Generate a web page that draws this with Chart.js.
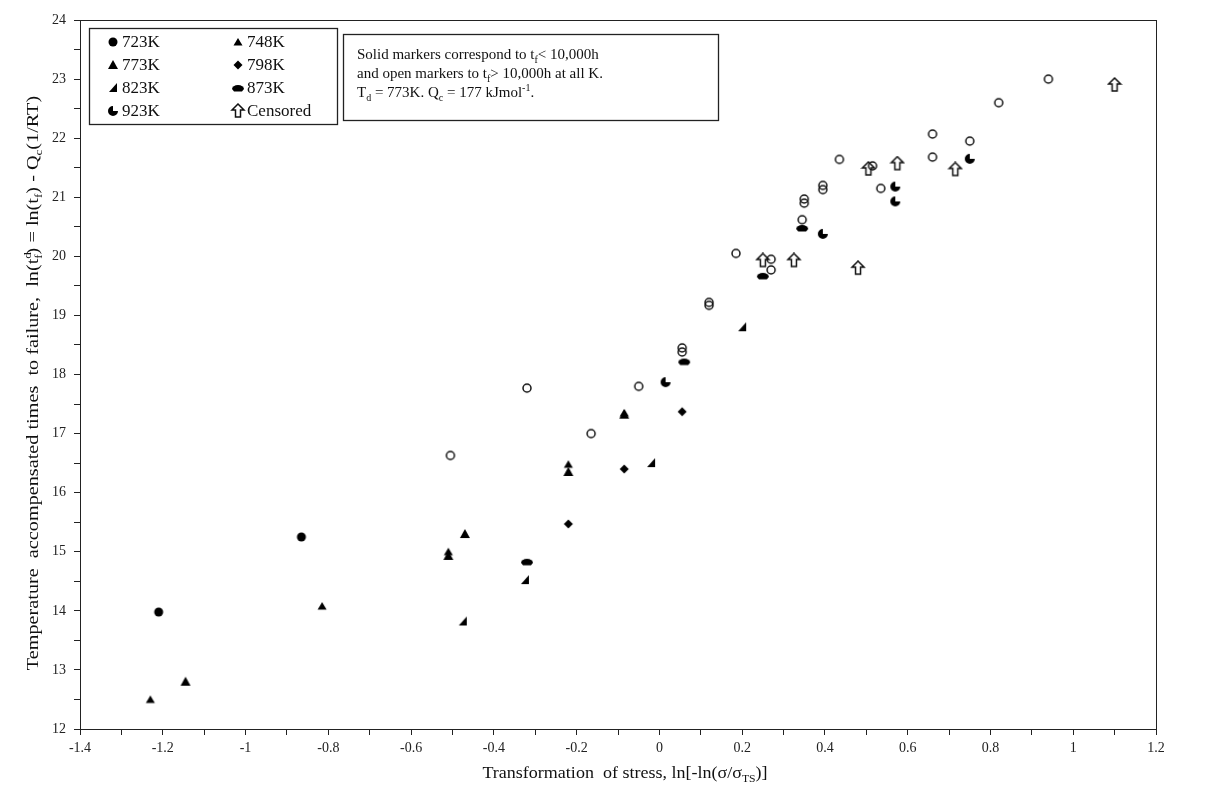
<!DOCTYPE html>
<html>
<head>
<meta charset="utf-8">
<script src="https://cdn.jsdelivr.net/npm/chart.js@4.4.1/dist/chart.umd.min.js"></script>
<style>
  body { margin: 0; background: #fff; }
  #wrap { width: 1208px; height: 787px; }
</style>
</head>
<body>
<div id="wrap"><canvas id="chart" width="1208" height="787"></canvas></div>
<script>
// data points [x, y]
const k723 = [[-1.21, 13.98], [-0.865, 15.25]];
const k748 = [[-1.23, 12.5], [-0.815, 14.08], [-0.51, 15.0], [-0.22, 16.48], [-0.085, 17.35]];
const k773 = [[-1.145, 12.8], [-0.51, 14.93], [-0.47, 15.3], [-0.22, 16.35], [-0.085, 17.32]];
const k798 = [[-0.22, 15.47], [-0.085, 16.4], [0.055, 17.37]];
const k823 = [[-0.475, 13.82], [-0.325, 14.52], [-0.02, 16.5], [0.2, 18.8]];
const k873 = [[-0.32, 14.83], [0.06, 18.22], [0.25, 19.67], [0.345, 20.48]];
const k923 = [[0.015, 17.87], [0.395, 20.38], [0.57, 21.18], [0.57, 20.93], [0.75, 21.65]];
const openPts = [[-0.505, 16.63], [-0.32, 17.77], [-0.05, 17.8], [-0.165, 17.0], [0.055, 18.45], [0.055, 18.38],
  [0.12, 19.22], [0.12, 19.17], [0.185, 20.05], [0.27, 19.95], [0.27, 19.77], [0.345, 20.62], [0.35, 20.97],
  [0.35, 20.9], [0.395, 21.2], [0.395, 21.13], [0.435, 21.64], [0.515, 21.53], [0.535, 21.15], [0.66, 22.07],
  [0.66, 21.68], [0.75, 21.95], [0.82, 22.6], [0.94, 23.0]];
const censored = [[0.25, 19.93], [0.325, 19.93], [0.48, 19.8], [0.505, 21.48], [0.575, 21.57], [0.715, 21.47], [1.1, 22.9]];

const legendLabels = ['723K', '748K', '773K', '798K', '823K', '873K', '923K', 'Censored'];

const serif = '"Liberation Serif", "DejaVu Serif", serif';

// small canvases used as point styles
function mk(draw) {
    const c = document.createElement('canvas');
    c.width = 16; c.height = 16;
    const g = c.getContext('2d');
    g.fillStyle = '#000';
    g.strokeStyle = '#111';
    g.lineWidth = 1.5;
    g.beginPath();
    draw(g, 8, 8);
    return c;
}
const mDot = mk((g, x, y) => { g.arc(x, y, 4.5, 0, Math.PI * 2); g.fill(); });
const mTri748 = mk((g, x, y) => { g.moveTo(x, y - 4); g.lineTo(x + 4.5, y + 3.5); g.lineTo(x - 4.5, y + 3.5); g.closePath(); g.fill(); });
const mTri773 = mk((g, x, y) => { g.moveTo(x, y - 5); g.lineTo(x + 5, y + 4); g.lineTo(x - 5, y + 4); g.closePath(); g.fill(); });
const mDiam = mk((g, x, y) => { g.moveTo(x, y - 4.5); g.lineTo(x + 4.5, y); g.lineTo(x, y + 4.5); g.lineTo(x - 4.5, y); g.closePath(); g.fill(); });
const mHalf = mk((g, x, y) => { g.moveTo(x + 4, y - 5); g.lineTo(x + 4, y + 4); g.lineTo(x - 4, y + 4); g.closePath(); g.fill(); });
const mDome = mk((g, x, y) => { g.ellipse(x, y + 1, 6, 4, 0, Math.PI, Math.PI * 2); g.lineTo(x + 4, y + 3.5); g.lineTo(x - 4, y + 3.5); g.closePath(); g.fill(); });
const mPac = mk((g, x, y) => { g.moveTo(x, y); g.arc(x, y, 5, 0, Math.PI * 1.5); g.closePath(); g.fill(); });
const mRing = mk((g, x, y) => { g.arc(x, y, 4, 0, Math.PI * 2); g.stroke(); });
const mArrow = mk((g, x, y) => {
    g.moveTo(x, y - 7); g.lineTo(x + 6, y - 1); g.lineTo(x + 2.5, y - 1); g.lineTo(x + 2.5, y + 6);
    g.lineTo(x - 2.5, y + 6); g.lineTo(x - 2.5, y - 1); g.lineTo(x - 6, y - 1); g.closePath(); g.stroke();
});

function ds(label, pts, style) {
    return {
        label: label,
        data: pts.map(p => ({ x: p[0], y: p[1] })),
        pointStyle: style,
        pointRadius: 6,
        showLine: false
    };
}

// rich text: parts [text, 'n'|'sub'|'sup'|'subsup'(sub, sup)]
function richWidth(g, parts, size) {
    let w = 0;
    parts.forEach(p => {
        g.font = (p[1] === 'n' ? size : Math.round(size * 0.65)) + 'px ' + serif;
        w += g.measureText(p[0]).width;
    });
    return w;
}
function richText(g, parts, x, y, size) {
    parts.forEach(p => {
        if (p[1] === 'n') {
            g.font = size + 'px ' + serif;
            g.fillText(p[0], x, y);
            x += g.measureText(p[0]).width;
        } else {
            const s = Math.round(size * 0.65);
            g.font = s + 'px ' + serif;
            if (p[1] === 'sub') g.fillText(p[0], x, y + size * 0.25);
            else if (p[1] === 'sup') g.fillText(p[0], x, y - size * 0.4);
            else { g.fillText(p[0], x, y + size * 0.25); g.fillText(p[2], x, y - size * 0.4); }
            x += g.measureText(p[0]).width;
        }
    });
}

const decor = {
    id: 'decor',
    afterDraw(chart) {
        const g = chart.ctx;
        const a = chart.chartArea;
        g.save();
        // frame
        g.strokeStyle = '#222';
        g.lineWidth = 1;
        g.strokeRect(a.left + 0.5, a.top + 0.5, a.right - a.left, a.bottom - a.top);

        // legend box
        g.lineWidth = 1.3;
        g.strokeRect(89.5, 28.5, 248, 96);
        const styles = [mDot, mTri748, mTri773, mDiam, mHalf, mDome, mPac, mArrow];
        g.fillStyle = '#111';
        g.textBaseline = 'middle';
        g.font = '17px ' + serif;
        legendLabels.forEach((lab, i) => {
            const col = i % 2, row = Math.floor(i / 2);
            const mx = col === 0 ? 113 : 238;
            const my = 42 + row * 23;
            g.drawImage(styles[i], mx - 8, my - 8);
            g.fillText(lab, mx + 9, my + 1);
        });

        // note box
        g.strokeRect(343.5, 34.5, 375, 86);
        g.textBaseline = 'alphabetic';
        richText(g, [['Solid markers correspond to t', 'n'], ['f', 'sub'], ['< 10,000h', 'n']], 357, 59, 15);
        richText(g, [['and open markers to t', 'n'], ['f', 'sub'], ['> 10,000h at all K.', 'n']], 357, 78, 15);
        richText(g, [['T', 'n'], ['d', 'sub'], [' = 773K. Q', 'n'], ['c', 'sub'], [' = 177 kJmol', 'n'], ['-1', 'sup'], ['.', 'n']], 357, 97, 15);

        // x title
        const xt = [['Transformation  of stress, ln[-ln(\u03c3/\u03c3', 'n'], ['TS', 'sub'], [')]', 'n']];
        const xw = richWidth(g, xt, 17);
        g.save();
        g.translate(625, 778);
        g.scale(1.06, 1);
        richText(g, xt, -xw / 2, 0, 17);
        g.restore();

        // y title, stretched along its length like the source
        const yt = [['Temperature  accompensated times  to failure,  ln(t', 'n'], ['f', 'subsup', 'd'], [') = ln(t', 'n'],
            ['f', 'sub'], [') - Q', 'n'], ['c', 'sub'], ['(1/RT)', 'n']];
        const yw = richWidth(g, yt, 17);
        g.translate(38, 383);
        g.rotate(-Math.PI / 2);
        g.scale(1.19, 1);
        richText(g, yt, -yw / 2, 0, 17);
        g.restore();
    }
};

const ctx = document.getElementById('chart').getContext('2d');
const chart = new Chart(ctx, {
    type: 'scatter',
    data: {
        datasets: [
            ds('723K', k723, mDot),
            ds('748K', k748, mTri748),
            ds('773K', k773, mTri773),
            ds('798K', k798, mDiam),
            ds('823K', k823, mHalf),
            ds('873K', k873, mDome),
            ds('923K', k923, mPac),
            ds('open', openPts, mRing),
            ds('Censored', censored, mArrow)
        ]
    },
    options: {
        responsive: false,
        animation: false,
        layout: { padding: { left: 0, top: 20, right: 52, bottom: 0 } },
        plugins: {
            legend: { display: false },
            tooltip: { enabled: false }
        },
        scales: {
            x: {
                type: 'linear',
                min: -1.4,
                max: 1.2,
                afterFit: s => { s.height = 58; },
                border: { display: true, color: '#222', width: 1 },
                grid: { drawOnChartArea: false, tickLength: 6, color: '#222' },
                ticks: {
                    stepSize: 0.1,
                    autoSkip: false,
                    maxRotation: 0,
                    padding: 5,
                    color: '#222',
                    font: { family: serif, size: 14 },
                    callback: function (v) {
                        const t = Math.round(v * 10);
                        if (t % 2 !== 0) return '';
                        return String(t / 10);
                    }
                }
            },
            y: {
                type: 'linear',
                min: 12,
                max: 24,
                afterFit: s => { s.width = 80; },
                border: { display: true, color: '#222', width: 1 },
                grid: { drawOnChartArea: false, tickLength: 6, color: '#222' },
                ticks: {
                    stepSize: 0.5,
                    autoSkip: false,
                    padding: 8,
                    color: '#222',
                    font: { family: serif, size: 14 },
                    callback: function (v) {
                        return Number.isInteger(v) ? String(v) : '';
                    }
                }
            }
        }
    },
    plugins: [decor]
});
</script>
</body>
</html>
